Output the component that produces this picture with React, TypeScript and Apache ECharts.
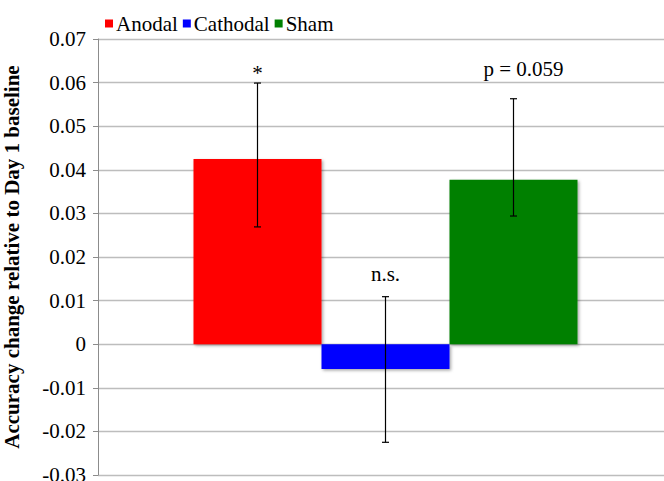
import React, { useEffect, useRef } from "react";
import * as echarts from "echarts";

const seriesNames = ["Anodal", "Cathodal", "Sham"];
const seriesColors = ["#ff0000", "#0000ff", "#008000"];
const means = [0.0425, -0.0057, 0.0377];
const errLow = [0.0269, -0.0225, 0.0294];
const errHigh = [0.0599, 0.0109, 0.0563];
const annotations = ["*", "n.s.", "p = 0.059"];
const annotationY = [0.0623, 0.0161, 0.0631];
const yTicks = { min: -0.03, max: 0.07, interval: 0.01 };

const FONT = "Liberation Serif";
const FS = 21;
const BAR_W = 128;

export default function App() {
  const ref = useRef<HTMLDivElement>(null);
  useEffect(() => {
    if (!ref.current) return;
    const chart = echarts.init(ref.current, undefined, { renderer: "svg" });
    const barSeries = seriesNames.map((name, i) => ({
      name,
      type: "bar",
      data: [means[i]],
      barWidth: BAR_W,
      barGap: "0%",
      itemStyle: {
        color: seriesColors[i],
        shadowBlur: 3,
        shadowColor: "rgba(0,0,0,0.35)",
        shadowOffsetX: 1.5,
        shadowOffsetY: 1.5,
      },
      z: 2,
    }));
    const errData = seriesNames.map((_, i) => [0, errLow[i], errHigh[i], annotationY[i], i]);
    chart.setOption({
      animation: false,
      textStyle: { fontFamily: FONT, fontStyle: "normal", fontWeight: "normal" },
      grid: { left: 98, right: -9, top: 39, bottom: 6, containLabel: false, outerBoundsMode: "none" },
      legend: {
        data: seriesNames,
        left: 105,
        top: 13,
        padding: 0,
        itemWidth: 8,
        itemHeight: 8,
        itemGap: 5,
        icon: "rect",
        textStyle: { fontFamily: FONT, fontWeight: "normal", fontSize: FS, color: "#000", padding: [0, 0, 0, -2] },
      },
      xAxis: {
        type: "category",
        data: [""],
        axisLine: { show: false },
        axisTick: { show: false },
        axisLabel: { show: false },
        splitLine: { show: false },
      },
      yAxis: {
        type: "value",
        min: yTicks.min,
        max: yTicks.max,
        interval: yTicks.interval,
        name: "Accuracy change relative to Day 1 baseline",
        nameLocation: "middle",
        nameGap: 76,
        nameTextStyle: { fontFamily: FONT, fontSize: FS, fontWeight: "bold", color: "#000" },
        axisLine: { show: true, lineStyle: { color: "#8c8c8c", width: 1 } },
        axisTick: { show: true, length: 5, lineStyle: { color: "#8c8c8c" } },
        axisLabel: {
          margin: 12,
          color: "#000",
          fontFamily: FONT,
          fontWeight: "normal",
          fontSize: FS,
          formatter: (v: number) => {
            const r = Math.round(v * 100) / 100;
            return r === 0 ? "0" : r.toFixed(2);
          },
        },
        splitLine: { show: true, lineStyle: { color: "#bdbdbd", width: 1.3 } },
      },
      series: [
        ...barSeries,
        {
          type: "custom",
          name: "errors",
          data: errData,
          encode: { x: 0, y: [1, 2] },
          z: 5,
          renderItem: (params: any, api: any) => {
            const i = api.value(4);
            const off = (i - 1) * BAR_W;
            const top = api.coord([0, api.value(2)]);
            const bot = api.coord([0, api.value(1)]);
            const lab = api.coord([0, api.value(3)]);
            const x = top[0] + off;
            const cap = 3.5;
            const st = { stroke: "#000", lineWidth: 1.2 };
            return {
              type: "group",
              children: [
                { type: "line", shape: { x1: x, y1: top[1], x2: x, y2: bot[1] }, style: st },
                { type: "line", shape: { x1: x - cap, y1: top[1], x2: x + cap, y2: top[1] }, style: st },
                { type: "line", shape: { x1: x - cap, y1: bot[1], x2: x + cap, y2: bot[1] }, style: st },
                {
                  type: "text",
                  x: x + (i === 2 ? 10 : 0),
                  y: lab[1],
                  style: {
                    text: annotations[i],
                    fill: "#000",
                    font: `normal ${FS}px "${FONT}"`,
                    align: "center",
                    verticalAlign: "middle",
                  },
                },
              ],
            };
          },
        },
      ],
    });
    return () => chart.dispose();
  }, []);
  return (
    <div
      ref={ref}
      style={{ position: "absolute", left: 0, top: 0, width: 664, height: 481, background: "#fff" }}
    />
  );
}
